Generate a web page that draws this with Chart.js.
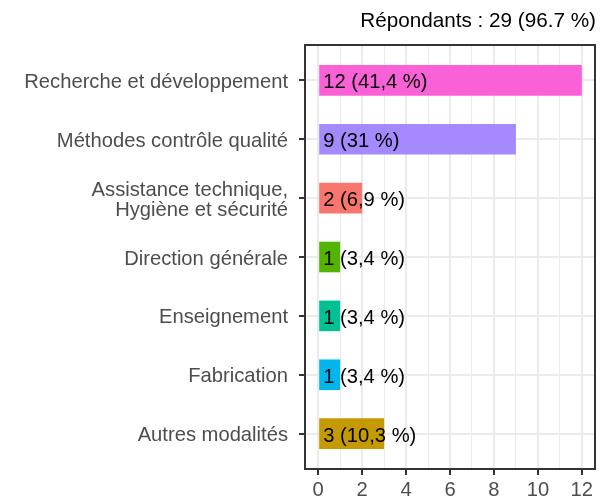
<!DOCTYPE html>
<html>
<head>
<meta charset="utf-8">
<script src="https://cdn.jsdelivr.net/npm/chart.js@4"></script>
<style>
html,body{margin:0;padding:0;background:#fff;}
#wrap{width:614px;height:500px;position:relative;}
</style>
</head>
<body>
<div id="wrap"><canvas id="c" width="614" height="500"></canvas></div>
<script>
const categories = [
  "Recherche et développement",
  "Méthodes contrôle qualité",
  ["Assistance technique,", "Hygiène et sécurité"],
  "Direction générale",
  "Enseignement",
  "Fabrication",
  "Autres modalités"
];
const counts = [12, 9, 2, 1, 1, 1, 3];
const percentLabels = ["41,4", "31", "6,9", "3,4", "3,4", "3,4", "10,3"];
const barColors = ["#FB61D7", "#A58AFF", "#F8766D", "#53B400", "#00C094", "#00B6EB", "#C49A00"];
const xTicks = [0, 2, 4, 6, 8, 10, 12];
const titleText = "Répondants : 29 (96.7 %)";

const FONT = "'Liberation Sans', Arial, sans-serif";
const FS = 20.2;

const data = counts.map((v, i) => ({ x: v, y: i }));

const borderPlugin = {
  id: 'panelBorder',
  afterDraw(chart) {
    const a = chart.chartArea, ctx = chart.ctx;
    ctx.save();
    ctx.strokeStyle = '#333333';
    ctx.lineWidth = 2;
    ctx.strokeRect(a.left, a.top, a.right - a.left, a.bottom - a.top);
    // title, right-aligned to the panel
    ctx.font = "20.7px " + FONT;
    ctx.fillStyle = '#000000';
    ctx.textAlign = 'right';
    ctx.textBaseline = 'alphabetic';
    ctx.fillText(titleText, a.right + 1, 26.5);
    ctx.restore();
  }
};

const labelPlugin = {
  id: 'barLabels',
  afterDatasetsDraw(chart) {
    const ctx = chart.ctx;
    const xs = chart.scales.x, ys = chart.scales.y;
    ctx.save();
    ctx.font = FS + "px " + FONT;
    ctx.textBaseline = 'alphabetic';
    ctx.fillStyle = '#000000';
    ctx.textAlign = 'left';
    counts.forEach((v, i) => {
      const txt = v + " (" + percentLabels[i] + " %)";
      ctx.fillText(txt, xs.getPixelForValue(0) + 5, ys.getPixelForValue(i) + 8);
    });
    ctx.fillStyle = '#4D4D4D';
    ctx.textAlign = 'right';
    const xr = ys.right - 6 - 11;
    categories.forEach((c, i) => {
      const lines = Array.isArray(c) ? c : [c];
      const n = lines.length;
      const yc = ys.getPixelForValue(i);
      lines.forEach((ln, k) => {
        const off = (k - (n - 1) / 2) * 20;
        ctx.fillText(ln, xr, yc + 7.5 + off);
      });
    });
    ctx.restore();
  }
};

new Chart(document.getElementById('c'), {
  type: 'bar',
  data: {
    datasets: [{
      data: data,
      backgroundColor: barColors,
      borderWidth: 0,
      barPercentage: 0.52,
      categoryPercentage: 1
    }]
  },
  options: {
    indexAxis: 'y',
    responsive: false,
    animation: false,
    layout: { padding: { left: 0, right: 19, top: 45, bottom: 0 } },
    plugins: {
      legend: { display: false },
      tooltip: { enabled: false },
      title: { display: false }
    },
    scales: {
      x: {
        type: 'linear',
        min: -0.6,
        max: 12.6,
        offset: false,
        afterBuildTicks(scale) {
          const t = [];
          for (let v = 0; v <= 12; v++) t.push({ value: v });
          scale.ticks = t;
        },
        afterFit(scale) { scale.height = 31; },
        ticks: {
          autoSkip: false,
          maxRotation: 0,
          padding: 3,
          color: '#4D4D4D',
          font: { family: FONT, size: FS },
          callback(v) { return xTicks.includes(v) ? String(v) : ''; }
        },
        grid: {
          offset: false,
          color: '#EBEBEB',
          lineWidth(ctx) { return ctx.tick && ctx.tick.value % 2 === 0 ? 2 : 1; },
          tickColor(ctx) { return ctx.tick && ctx.tick.value % 2 === 0 ? '#333333' : 'rgba(0,0,0,0)'; },
          tickWidth: 2,
          tickLength: 6,
          drawTicks: true
        },
        border: { display: false }
      },
      y: {
        type: 'linear',
        reverse: true,
        min: -0.6,
        max: 6.6,
        offset: false,
        afterBuildTicks(scale) {
          scale.ticks = categories.map((c, i) => ({ value: i }));
        },
        afterFit(scale) { scale.width = 305; },
        ticks: {
          display: false,
          autoSkip: false
        },
        grid: {
          offset: false,
          color: '#EBEBEB',
          lineWidth: 2,
          tickColor: '#333333',
          tickWidth: 2,
          tickLength: 6
        },
        border: { display: false }
      }
    }
  },
  plugins: [borderPlugin, labelPlugin]
});
</script>
</body>
</html>
